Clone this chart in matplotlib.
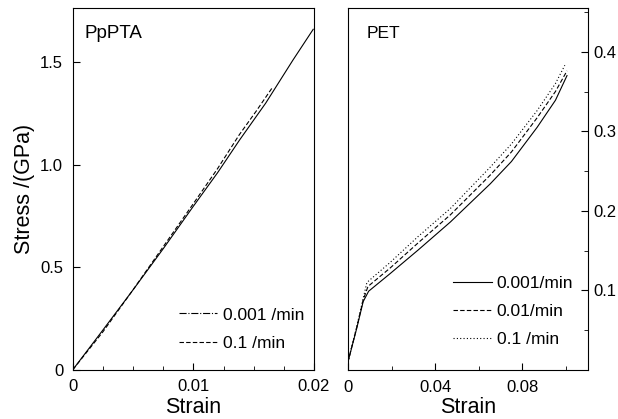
import matplotlib.pyplot as plt
from matplotlib.lines import Line2D
from matplotlib.ticker import MultipleLocator, FixedLocator

plt.rcParams['font.family'] = ['Liberation Sans', 'DejaVu Sans']

# PpPTA (left panel)
ppta_strain_slow = [0, 0.00249, 0.00498, 0.0075, 0.00996, 0.0120, 0.01383, 0.0160, 0.01826, 0.01994]
ppta_stress_slow = [0, 0.193, 0.388, 0.590, 0.794, 0.960, 1.12, 1.30, 1.51, 1.66]
ppta_strain_fast = [0, 0.0025, 0.005, 0.0075, 0.0100, 0.0120, 0.0138, 0.0152, 0.0166]
ppta_stress_fast = [0, 0.185, 0.390, 0.600, 0.810, 0.980, 1.145, 1.260, 1.38]

# PET (right panel)
pet_strain_1 = [0, 0.004, 0.007, 0.0095, 0.0193, 0.0323, 0.047, 0.0653, 0.075, 0.0868, 0.0952, 0.1005]
pet_stress_1 = [0.010, 0.052, 0.086, 0.099, 0.121, 0.151, 0.186, 0.234, 0.262, 0.305, 0.339, 0.370]
pet_strain_2 = [0, 0.004, 0.007, 0.0092, 0.0193, 0.0323, 0.047, 0.0653, 0.075, 0.0868, 0.0952, 0.1005]
pet_stress_2 = [0.010, 0.053, 0.088, 0.105, 0.128, 0.160, 0.195, 0.245, 0.274, 0.317, 0.350, 0.376]
pet_strain_3 = [0, 0.004, 0.007, 0.0087, 0.0193, 0.0323, 0.047, 0.0653, 0.075, 0.0868, 0.0952, 0.0995]
pet_stress_3 = [0.010, 0.054, 0.090, 0.110, 0.135, 0.168, 0.203, 0.255, 0.284, 0.326, 0.360, 0.383]

fig = plt.figure(figsize=(6.18, 4.19), dpi=100)
ax1 = fig.add_axes([0.118, 0.118, 0.390, 0.863])
ax2 = fig.add_axes([0.563, 0.117, 0.388, 0.864])

lw = 0.8
ax1.plot(ppta_strain_slow, ppta_stress_slow, color='black', lw=lw)
ax1.plot(ppta_strain_fast, ppta_stress_fast, color='black', lw=lw, dashes=(4, 2))
ax1.set_xlim(0, 0.02)
ax1.set_ylim(0, 1.764)
ax1.xaxis.set_major_locator(FixedLocator([0, 0.01, 0.02]))
ax1.xaxis.set_minor_locator(MultipleLocator(0.0025))
ax1.set_xticklabels(['0', '0.01', '0.02'])
ax1.yaxis.set_major_locator(FixedLocator([0, 0.5, 1.0, 1.5]))
ax1.set_yticklabels(['0', '0.5', '1.0', '1.5'])
ax1.tick_params(which='both', direction='in', top=False, right=False, labelsize=12, pad=7)
ax1.tick_params(which='major', length=5)
ax1.tick_params(which='minor', length=3)
ax1.set_xlabel('Strain', fontsize=15.5, labelpad=2)
ax1.set_ylabel('Stress /(GPa)', fontsize=15.5, labelpad=4)
ax1.text(0.05, 0.93, 'PpPTA', transform=ax1.transAxes, fontsize=13.5, va='center')
h1 = [Line2D([], [], color='black', lw=lw, linestyle='-.'),
      Line2D([], [], color='black', lw=lw, dashes=(4, 2))]
ax1.legend(h1, ['0.001 /min', '0.1 /min'], loc='upper left', bbox_to_anchor=(0.441, 0.172),
           frameon=False, fontsize=12.5, handlelength=2.2, handletextpad=0.3,
           borderpad=0, borderaxespad=0, labelspacing=0.75)

ax2.plot(pet_strain_1, pet_stress_1, color='black', lw=lw)
ax2.plot(pet_strain_2, pet_stress_2, color='black', lw=lw, dashes=(4, 2))
ax2.plot(pet_strain_3, pet_stress_3, color='black', lw=lw, dashes=(1, 2))
ax2.set_xlim(0, 0.11)
ax2.set_ylim(0, 0.455)
ax2.xaxis.set_major_locator(FixedLocator([0, 0.04, 0.08]))
ax2.xaxis.set_minor_locator(MultipleLocator(0.02))
ax2.set_xticklabels(['0', '0.04', '0.08'])
ax2.yaxis.set_major_locator(FixedLocator([0.1, 0.2, 0.3, 0.4]))
ax2.yaxis.set_minor_locator(MultipleLocator(0.05))
ax2.set_yticklabels(['0.1', '0.2', '0.3', '0.4'])
ax2.yaxis.tick_right()
ax2.tick_params(which='both', direction='in', top=False, left=False, labelsize=12)
ax2.tick_params(axis='x', pad=7)
ax2.tick_params(axis='y', pad=4)
ax2.tick_params(which='major', length=5)
ax2.tick_params(which='minor', length=3)
ax2.set_xlabel('Strain', fontsize=15.5, labelpad=2)
ax2.text(0.08, 0.93, 'PET', transform=ax2.transAxes, fontsize=12.5, va='center')
h2 = [Line2D([], [], color='black', lw=lw),
      Line2D([], [], color='black', lw=lw, dashes=(4, 2)),
      Line2D([], [], color='black', lw=lw, dashes=(1, 2))]
ax2.legend(h2, ['0.001/min', '0.01/min', '0.1 /min'], loc='upper left', bbox_to_anchor=(0.44, 0.259),
           frameon=False, fontsize=12.5, handlelength=2.2, handletextpad=0.3,
           borderpad=0, borderaxespad=0, labelspacing=0.72)

fig.savefig('out.png', dpi=100)
